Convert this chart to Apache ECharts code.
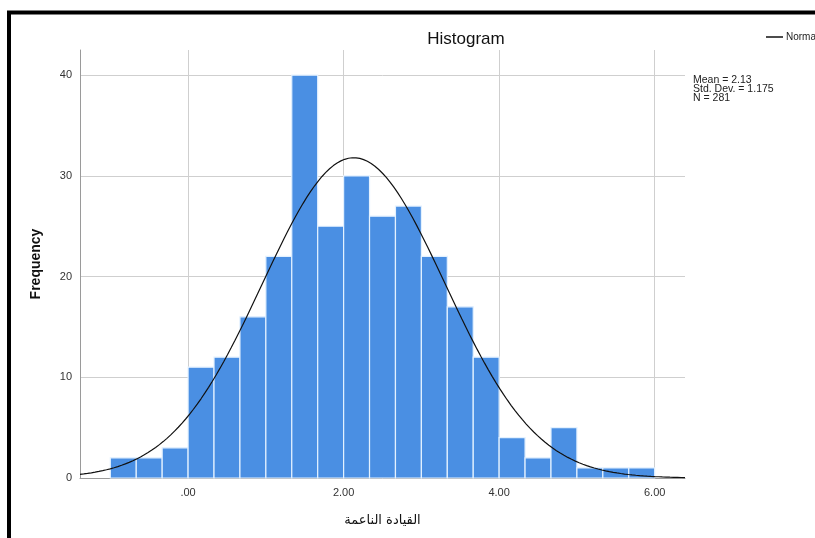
<!DOCTYPE html>
<html>
<head>
<meta charset="utf-8">
<script src="https://cdn.jsdelivr.net/npm/echarts@6/dist/echarts.min.js"></script>
<style>html,body{margin:0;padding:0;background:#fff}#c{width:815px;height:538px}</style>
</head>
<body>
<div id="c"></div>
<script>
// Histogram bins (start values) and frequencies
const binStarts = [-1.0, -0.6667, -0.3333, 0.0, 0.3333, 0.6667, 1.0, 1.3333, 1.6667, 2.0, 2.3333, 2.6667, 3.0, 3.3333, 3.6667, 4.0, 4.3333, 4.6667, 5.0, 5.3333, 5.6667];
const binWidth = 1 / 3;
const frequencies = [2, 2, 3, 11, 12, 16, 22, 40, 25, 30, 26, 27, 22, 17, 12, 4, 2, 5, 1, 1, 1];
const xTickValues = [0, 2, 4, 6];
const yTickValues = [0, 10, 20, 30, 40];
const statMean = 2.13;
const statSD = 1.175;
const statN = 281;

const xMin = -1.39, xMax = 6.39;

// Normal overlay defined by the displayed Mean / Std. Dev. / N
const curve = [];
for (let i = 0; i <= 160; i++) {
  const x = xMin + (xMax - xMin) * i / 160;
  const z = (x - statMean) / statSD;
  const y = statN * binWidth / (statSD * Math.sqrt(2 * Math.PI)) * Math.exp(-0.5 * z * z);
  curve.push([x, y]);
}
const barData = binStarts.map((s, i) => [s, s + binWidth, frequencies[i]]);

const chart = echarts.init(document.getElementById('c'));
const font = '"Liberation Sans", Arial, sans-serif';
chart.setOption({
  animation: false,
  backgroundColor: '#fff',
  textStyle: { fontFamily: font },
  title: {
    text: 'Histogram', left: 461, top: 26, textAlign: 'center',
    textStyle: { fontSize: 17, fontWeight: 'normal', color: '#111', fontFamily: font }
  },
  legend: {
    data: [{ name: 'Normal', icon: 'rect' }],
    left: 761, top: 27, itemWidth: 17, itemHeight: 1.5, itemGap: 4,
    textStyle: { fontSize: 10, color: '#222', fontFamily: font, padding: [0, 0, 0, -2] }
  },
  grid: { left: 80, right: 130, top: 50, bottom: 60 },
  xAxis: {
    type: 'value', min: xMin, max: xMax,
    name: 'القيادة الناعمة', nameLocation: 'middle', nameGap: 36,
    nameTextStyle: { fontSize: 13, color: '#111', fontFamily: '"DejaVu Sans", "Noto Sans", sans-serif' },
    axisLine: { show: true, onZero: false, lineStyle: { color: '#9a9a9a', width: 1 } },
    axisTick: { show: false, customValues: xTickValues },
    axisLabel: {
      customValues: xTickValues, fontSize: 11, color: '#333', margin: 9,
      formatter: v => v.toFixed(2).replace(/^0\./, '.')
    },
    splitLine: { show: true, lineStyle: { color: '#cfcfcf', width: 1 } }
  },
  yAxis: {
    type: 'value', min: 0, max: 42.5,
    name: 'Frequency', nameLocation: 'middle', nameGap: 37,
    nameTextStyle: { fontSize: 14, fontWeight: 'bold', color: '#111', fontFamily: font },
    axisLine: { show: true, onZero: false, lineStyle: { color: '#9a9a9a', width: 1 } },
    axisTick: { show: false, customValues: yTickValues },
    axisLabel: { customValues: yTickValues, fontSize: 11, color: '#333', margin: 8 },
    splitLine: { show: true, lineStyle: { color: '#cfcfcf', width: 1 } }
  },
  series: [
    {
      type: 'custom', name: 'Frequency', z: 2,
      data: barData,
      encode: { x: [0, 1], y: 2 },
      renderItem: function (params, api) {
        const p0 = api.coord([api.value(0), api.value(2)]);
        const p1 = api.coord([api.value(1), 0]);
        return {
          type: 'rect',
          shape: { x: p0[0], y: p0[1], width: p1[0] - p0[0], height: p1[1] - p0[1] },
          style: { fill: '#4a8fe3', stroke: '#e3f1ff', lineWidth: 1.2 }
        };
      }
    },
    {
      type: 'line', name: 'Normal', data: curve, showSymbol: false, smooth: false, z: 3,
      itemStyle: { color: '#111' },
      lineStyle: { color: '#111', width: 1.2 }
    }
  ],
  graphic: [
    {
      type: 'text', left: 693, top: 75,
      style: {
        text: 'Mean = ' + statMean.toFixed(2) + '\nStd. Dev. = ' + statSD.toFixed(3) + '\nN = ' + statN,
        fontSize: 10.5, lineHeight: 8.7, fill: '#222', fontFamily: font
      }
    },
    {
      type: 'rect', silent: true, z: 100,
      shape: { x: 9, y: 12.5, width: 1000, height: 1000 },
      style: { fill: 'none', stroke: '#000', lineWidth: 4 }
    }
  ]
});
</script>
</body>
</html>
